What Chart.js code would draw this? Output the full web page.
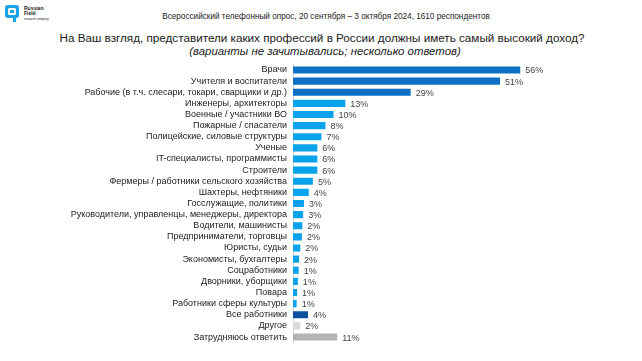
<!DOCTYPE html>
<html>
<head>
<meta charset="utf-8">
<script src="https://cdn.jsdelivr.net/npm/chart.js@4"></script>
<style>
    body { margin: 0; background: #fff; width: 642px; height: 361px; overflow: hidden; position: relative; font-family: "Liberation Sans", Arial, sans-serif; }
    .logo { position: absolute; left: 5px; top: 5px; width: 14px; height: 17px; }
    .logo-text { position: absolute; left: 24px; top: 6px; font-size: 5px; line-height: 5px; color: #222; font-weight: bold; }
    .head { position: absolute; top: 12px; left: 5px; width: 642px; text-align: center; font-size: 8.2px; color: #222; }
    .title { position: absolute; top: 31px; left: 1px; width: 642px; text-align: center; font-size: 11.7px; color: #222; }
    .sub { position: absolute; top: 45px; left: 4px; width: 642px; text-align: center; font-size: 11.4px; font-style: italic; color: #222; }
    .wrap { position: absolute; left: 0; top: 53px; width: 642px; height: 301px; }
</style>
</head>
<body>
<svg class="logo" viewBox="0 0 14 17">
    <rect x="0" y="0" width="14" height="13" rx="3" fill="#18a3e6"/>
    <rect x="3" y="3" width="8" height="7" rx="1.5" fill="#fff"/>
    <rect x="5" y="5" width="4" height="3" fill="#18a3e6"/>
    <rect x="8" y="11" width="3" height="6" fill="#18a3e6"/>
</svg>
<div class="logo-text">Russian<br>Field<br><span style="font-weight:normal;font-size:3px">research company</span></div>
<div class="head">Всероссийский телефонный опрос, 20 сентября – 3 октября 2024, 1610 респондентов</div>
<div class="title">На Ваш взгляд, представители каких профессий в России должны иметь самый высокий доход?</div>
<div class="sub">(варианты не зачитывались; несколько ответов)</div>
<div class="wrap"><canvas id="profChart"></canvas></div>
<script>
const categories = [
    'Врачи',
    'Учителя и воспитатели',
    'Рабочие (в т.ч. слесари, токари, сварщики и др.)',
    'Инженеры, архитекторы',
    'Военные / участники ВО',
    'Пожарные / спасатели',
    'Полицейские, силовые структуры',
    'Ученые',
    'IT-специалисты, программисты',
    'Строители',
    'Фермеры / работники сельского хозяйства',
    'Шахтеры, нефтяники',
    'Госслужащие, политики',
    'Руководители, управленцы, менеджеры, директора',
    'Водители, машинисты',
    'Предприниматели, торговцы',
    'Юристы, судьи',
    'Экономисты, бухгалтеры',
    'Соцработники',
    'Дворники, уборщики',
    'Повара',
    'Работники сферы культуры',
    'Все работники',
    'Другое',
    'Затрудняюсь ответить'
];
// shares, %
const values = [56, 51, 29, 12.9, 10, 8, 7, 6, 6, 6, 4.9, 3.9, 2.7, 2.5, 2.3, 2.2, 1.8, 1.5, 1.4, 1.2, 1.0, 0.9, 3.7, 1.8, 10.9];
const shownLabels = ['56%', '51%', '29%', '13%', '10%', '8%', '7%', '6%', '6%', '6%', '5%', '4%', '3%', '3%', '2%', '2%', '2%', '2%', '1%', '1%', '1%', '1%', '4%', '2%', '11%'];

const barColors = values.map((v, i) => {
    if (i < 3) return '#0b6fc4';
    if (i === 22) return '#0e4f9e';
    if (i === 23) return '#dadada';
    if (i === 24) return '#b3b3b3';
    return '#0aa2ea';
});

const valueLabels = {
    id: 'valueLabels',
    afterDatasetsDraw(chart) {
        const ctx = chart.ctx;
        const meta = chart.getDatasetMeta(0);
        ctx.save();
        ctx.font = '9px "Liberation Sans", Arial, sans-serif';
        ctx.fillStyle = '#444';
        ctx.textBaseline = 'middle';
        meta.data.forEach((bar, i) => {
            ctx.fillText(shownLabels[i], bar.x + 5, bar.y + 1);
        });
        ctx.restore();
    }
};

new Chart(document.getElementById('profChart'), {
    type: 'bar',
    data: {
        labels: categories,
        datasets: [{
            data: values,
            backgroundColor: barColors,
            barPercentage: 0.64,
            categoryPercentage: 1
        }]
    },
    options: {
        indexAxis: 'y',
        responsive: true,
        maintainAspectRatio: false,
        animation: false,
        layout: { padding: 0 },
        plugins: {
            legend: { display: false },
            tooltip: { enabled: false }
        },
        scales: {
            x: {
                display: false,
                min: 0,
                max: 86
            },
            y: {
                grid: { display: false, drawTicks: false },
                border: { display: true, color: '#d6d6d6', width: 1 },
                ticks: {
                    color: '#222',
                    padding: 6,
                    autoSkip: false,
                    font: { family: '"Liberation Sans", Arial, sans-serif', size: 9 }
                },
                afterFit(scale) { scale.width = 293; }
            }
        }
    },
    plugins: [valueLabels]
});
</script>
</body>
</html>
